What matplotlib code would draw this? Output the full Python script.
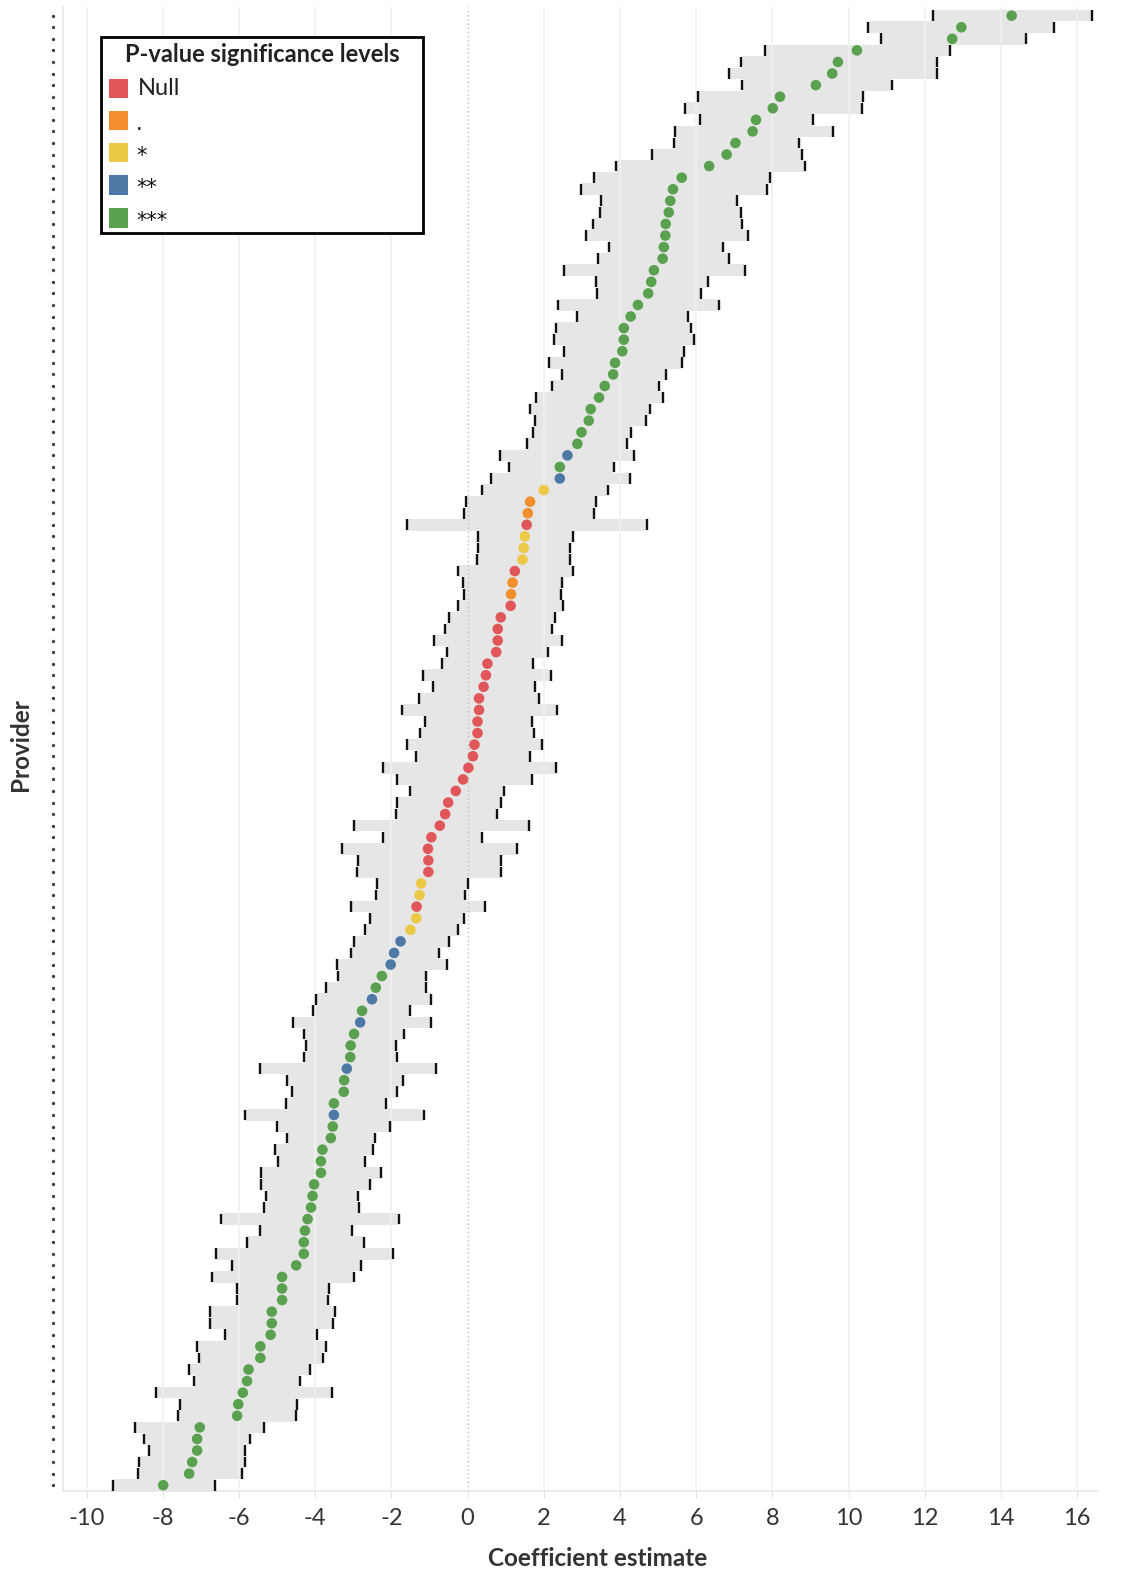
import matplotlib
matplotlib.use("Agg")
import matplotlib.pyplot as plt
import matplotlib.transforms as mtransforms
from matplotlib.patches import Rectangle
import numpy as np

plt.rcParams['font.family'] = ['Lato', 'DejaVu Sans']

# coefficient estimates per provider, sorted from largest to smallest
estimate = [14.28, 12.96, 12.72, 10.22, 9.72, 9.57, 9.14, 8.20, 8.01, 7.57,
            7.48, 7.03, 6.80, 6.34, 5.62, 5.39, 5.32, 5.28, 5.20, 5.19,
            5.15, 5.12, 4.89, 4.82, 4.74, 4.47, 4.28, 4.10, 4.10, 4.06,
            3.87, 3.82, 3.60, 3.45, 3.23, 3.18, 2.99, 2.88, 2.62, 2.42,
            2.42, 2.00, 1.64, 1.58, 1.55, 1.50, 1.47, 1.44, 1.24, 1.18,
            1.14, 1.13, 0.87, 0.79, 0.79, 0.75, 0.52, 0.48, 0.42, 0.30,
            0.30, 0.26, 0.26, 0.18, 0.14, 0.02, -0.12, -0.31, -0.51, -0.59,
            -0.73, -0.95, -1.04, -1.03, -1.03, -1.22, -1.26, -1.34, -1.35, -1.50,
            -1.76, -1.93, -2.02, -2.25, -2.41, -2.51, -2.77, -2.82, -2.98, -3.07,
            -3.08, -3.17, -3.24, -3.25, -3.51, -3.51, -3.54, -3.59, -3.81, -3.85,
            -3.85, -4.03, -4.07, -4.11, -4.20, -4.27, -4.30, -4.30, -4.50, -4.87,
            -4.87, -4.87, -5.14, -5.14, -5.17, -5.44, -5.44, -5.75, -5.79, -5.90,
            -6.02, -6.05, -7.03, -7.10, -7.10, -7.23, -7.31, -7.99]

ci_low = [12.21, 10.50, 10.84, 7.80, 7.17, 6.86, 7.19, 6.05, 5.71, 6.09,
          5.45, 5.41, 4.85, 3.89, 3.31, 2.98, 3.50, 3.47, 3.28, 3.12,
          3.70, 3.43, 2.52, 3.36, 3.39, 2.37, 2.86, 2.33, 2.26, 2.52,
          2.14, 2.47, 2.21, 1.80, 1.65, 1.76, 1.72, 1.57, 0.85, 1.08,
          0.62, 0.38, -0.05, -0.10, -1.58, 0.28, 0.27, 0.24, -0.24, -0.11,
          -0.10, -0.24, -0.48, -0.60, -0.87, -0.55, -0.67, -1.17, -0.90, -1.28,
          -1.73, -1.13, -1.25, -1.58, -1.36, -2.23, -1.85, -1.51, -1.85, -1.89,
          -2.99, -2.23, -3.29, -2.87, -2.91, -2.37, -2.41, -3.06, -2.57, -2.70,
          -2.99, -3.06, -3.44, -3.41, -3.72, -3.98, -4.05, -4.59, -4.29, -4.24,
          -4.30, -5.45, -4.73, -4.60, -4.77, -5.85, -5.00, -4.73, -5.05, -4.97,
          -5.42, -5.42, -5.28, -5.35, -6.48, -5.46, -5.79, -6.60, -6.18, -6.71,
          -6.05, -6.05, -6.75, -6.75, -6.37, -7.09, -7.05, -7.31, -7.17, -8.19,
          -7.55, -7.59, -8.72, -8.50, -8.35, -8.62, -8.66, -9.30]

ci_high = [16.38, 15.40, 14.65, 12.66, 12.33, 12.33, 11.14, 10.38, 10.36, 9.06,
           9.59, 8.70, 8.77, 8.85, 7.95, 7.85, 7.08, 7.17, 7.20, 7.35,
           6.70, 6.85, 7.27, 6.32, 6.13, 6.59, 5.78, 5.86, 5.94, 5.67,
           5.64, 5.22, 5.03, 5.13, 4.80, 4.68, 4.30, 4.19, 4.38, 3.85,
           4.27, 3.68, 3.36, 3.32, 4.72, 2.76, 2.70, 2.68, 2.76, 2.49,
           2.46, 2.51, 2.29, 2.21, 2.48, 2.10, 1.72, 2.18, 1.76, 1.88,
           2.34, 1.68, 1.75, 1.95, 1.64, 2.31, 1.68, 0.95, 0.88, 0.77,
           1.60, 0.39, 1.30, 0.88, 0.88, 0.01, -0.07, 0.46, -0.10, -0.24,
           -0.48, -0.76, -0.55, -1.08, -1.08, -0.97, -1.51, -0.97, -1.66, -1.89,
           -1.86, -0.82, -1.70, -1.85, -2.15, -1.15, -2.04, -2.42, -2.49, -2.69,
           -2.28, -2.57, -2.88, -2.84, -1.79, -3.03, -2.72, -1.97, -2.80, -2.99,
           -3.64, -3.67, -3.48, -3.53, -3.95, -3.72, -3.80, -4.13, -4.39, -3.56,
           -4.48, -4.51, -5.35, -5.70, -5.83, -5.83, -5.91, -6.64]

# significance code per provider
signif = (['***'] * 38 + ['**', '***', '**', '*', '.', '.', 'Null', '*', '*', '*',
          'Null', '.', '.'] + ['Null'] * 24 + ['*', '*', 'Null', '*', '*',
          '**', '**', '**', '***', '***', '**', '***', '**', '***', '***',
          '***', '**', '***', '***', '***', '**'] + ['***'] * 32)

levels = ['Null', '.', '*', '**', '***']
level_colors = ['#E15759', '#F28E2B', '#EDC948', '#4E79A7', '#59A14F']
color_of = dict(zip(levels, level_colors))

W, H = 1137, 1577
fig = plt.figure(figsize=(W / 100, H / 100), dpi=100)

# axes placed in pixel terms
ax_l, ax_r, ax_t, ax_b = 63, 1097, 7, 1491
ax = fig.add_axes([ax_l / W, 1 - ax_b / H, (ax_r - ax_l) / W, (ax_b - ax_t) / H])

rows = np.arange(len(estimate))
est = np.array(estimate)
lo = np.array(ci_low)
hi = np.array(ci_high)

# confidence interval bands
ax.barh(rows, hi - lo, left=lo, height=1.0, color='#E6E6E6', linewidth=0, zorder=1)

# grid
for gx in range(-10, 17, 2):
    if gx == 0:
        ax.axvline(0, color='#BDBDBD', lw=1, ls=(0, (1, 2)), zorder=2)
    else:
        ax.axvline(gx, color='#F0F0F0', lw=1.2, zorder=2)

# interval end ticks
ax.vlines(lo, rows - 0.46, rows + 0.46, color='#111111', lw=1.7, zorder=3)
ax.vlines(hi, rows - 0.46, rows + 0.46, color='#111111', lw=1.7, zorder=3)

# point estimates
ax.scatter(est, rows, s=58, c=[color_of[s] for s in signif], linewidths=0, zorder=4)

ax.set_xlim(-10.62, 16.52)
ax.set_ylim(len(estimate) - 0.5, -0.75)
ax.set_xticks(range(-10, 17, 2))
ax.set_xticklabels([str(v) for v in range(-10, 17, 2)], fontsize=17, color='#333333')
ax.tick_params(axis='x', length=5, color='#E0E0E0', pad=7)
ax.set_yticks([])
for side in ['top', 'right']:
    ax.spines[side].set_visible(False)
for side in ['left', 'bottom']:
    ax.spines[side].set_color('#E6E6E6')
    ax.spines[side].set_linewidth(1.2)

# dotted row markers to the left of the axis
trans = mtransforms.blended_transform_factory(ax.transAxes, ax.transData)
ax.plot(np.full(len(rows), -10 / (ax_r - ax_l)), rows, ls='none', marker='o',
        ms=1.4, color='#444444', transform=trans, clip_on=False)

fig.text(598 / W, 1 - 1558 / H, 'Coefficient estimate', ha='center', va='center',
         fontsize=17.5, fontweight='bold', color='#333333')
fig.text(21 / W, 1 - 745 / H, 'Provider', ha='center', va='center', rotation=90,
         fontsize=17.5, fontweight='bold', color='#333333')

# legend box
lg_l, lg_t, lg_r, lg_b = 100.5, 36.5, 423, 233
fig.add_artist(Rectangle((lg_l / W, 1 - lg_b / H), (lg_r - lg_l) / W, (lg_b - lg_t) / H,
                         transform=fig.transFigure, facecolor='white',
                         edgecolor='black', lw=2, zorder=5))
fig.text(262 / W, 1 - 54.5 / H, 'P-value significance levels', ha='center', va='center',
         fontsize=17, fontweight='bold', color='#222222', zorder=6)
item_y = [88.5, 120.6, 152.8, 185, 218]
for lab, col, yy in zip(levels, level_colors, item_y):
    fig.add_artist(Rectangle((108.5 / W, 1 - (yy + 9.5) / H), 19 / W, 19 / H,
                             transform=fig.transFigure, facecolor=col,
                             edgecolor='none', zorder=6))
    if lab == 'Null':
        fig.text(137.5 / W, 1 - yy / H, lab, ha='left', va='center',
                 fontsize=17, color='#222222', zorder=6)
    else:
        fig.text(136 / W, 1 - (yy + 3) / H, lab, ha='left', va='center',
                 fontsize=15, family=['DejaVu Sans'], color='#111111', zorder=6)

fig.savefig('out.png', dpi=100)
